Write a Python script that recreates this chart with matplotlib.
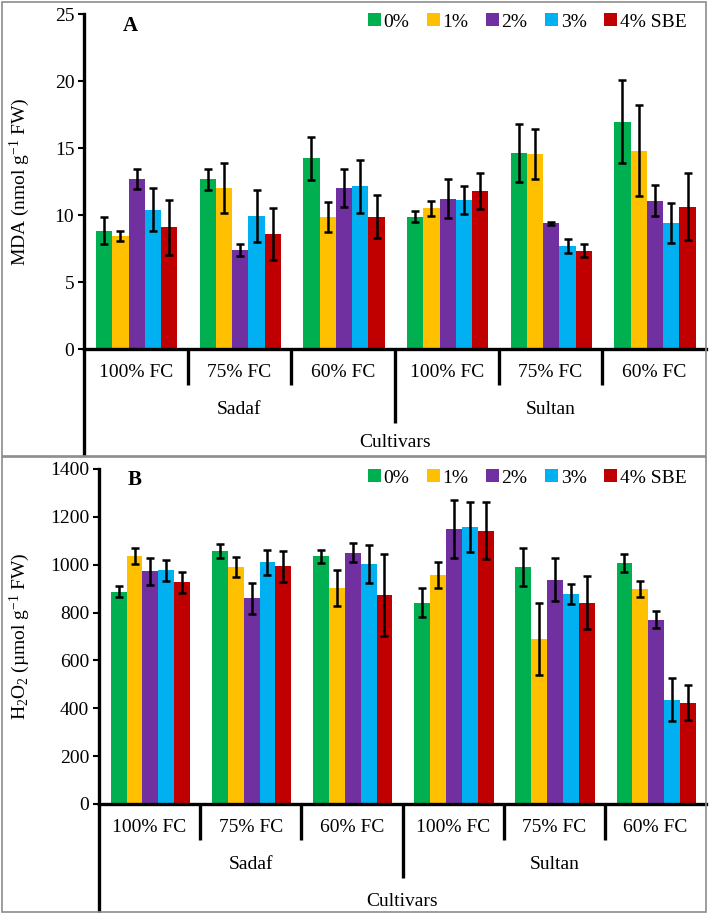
import matplotlib
import matplotlib.pyplot as plt
from matplotlib.patches import Rectangle
import numpy as np

matplotlib.use("Agg")

plt.rcParams['font.family'] = 'Liberation Serif'
plt.rcParams['mathtext.fontset'] = 'custom'
plt.rcParams['mathtext.rm'] = 'Liberation Serif'
plt.rcParams['mathtext.it'] = 'Liberation Serif:italic'
plt.rcParams['font.size'] = 14

# data
treatments = ['0%', '1%', '2%', '3%', '4% SBE']
colors = ['#00B050', '#FFC000', '#7030A0', '#00B0F0', '#C00000']
water_levels = ['100% FC', '75% FC', '60% FC', '100% FC', '75% FC', '60% FC']
cultivars = ['Sadaf', 'Sultan']

# MDA, one row per treatment, one column per group
mda = [
    [8.83, 12.67, 14.22, 9.88, 14.65, 16.97],
    [8.43, 12.0, 9.88, 10.5, 14.55, 14.8],
    [12.7, 7.39, 12.0, 11.23, 9.38, 11.08],
    [10.38, 9.93, 12.15, 11.15, 7.68, 9.4],
    [9.1, 8.58, 9.88, 11.8, 7.34, 10.63],
]
mda_err = [
    [1.0, 0.8, 1.63, 0.4, 2.15, 3.1],
    [0.35, 1.88, 1.12, 0.57, 1.88, 3.4],
    [0.75, 0.44, 1.4, 1.46, 0.1, 1.18],
    [1.6, 1.95, 1.97, 1.05, 0.55, 1.5],
    [2.05, 1.97, 1.62, 1.35, 0.49, 2.5],
]

# H2O2
h2o2 = [
    [888, 1056, 1035, 842, 990, 1008],
    [1036, 989, 902, 958, 689, 898],
    [973, 859, 1051, 1149, 938, 771],
    [976, 1011, 1003, 1157, 877, 436],
    [926, 993, 874, 1142, 842, 424],
]
h2o2_err = [
    [25, 30, 27, 61, 81, 37],
    [35, 42, 75, 55, 150, 34],
    [57, 66, 41, 120, 90, 35],
    [45, 52, 80, 105, 42, 90],
    [44, 65, 172, 120, 112, 73],
]

W, H = 709, 915
fig = plt.figure(figsize=(W / 100, H / 100), dpi=100)

# gray panel frames
for top, bot in [(2, 456), (457, 912)]:
    fig.patches.append(Rectangle((2 / W, 1 - bot / H), 704 / W, (bot - top) / H,
                                 transform=fig.transFigure, fill=False,
                                 edgecolor='#8c8c8c', linewidth=1.2))


def panel(rect, values, errors, ylim, yticks, ylabel, letter, letter_pos,
          leg_pos, ylabel_x, spine_bottom, cult_y):
    ax = fig.add_axes(rect)
    n = len(water_levels)
    bw = 0.157
    x = np.arange(n) + 0.508
    handles = []
    for i, name in enumerate(treatments):
        b = ax.bar(x + (i - 2) * bw, values[i], bw, color=colors[i],
                   yerr=errors[i], capsize=3.2,
                   error_kw=dict(elinewidth=1.8, capthick=1.8, ecolor='black'),
                   label=name, zorder=2)
        handles.append(b)
    ax.set_xlim(0, n)
    ax.set_ylim(*ylim)
    ax.set_yticks(yticks)
    ax.set_xticks([])
    for s in ['top', 'right']:
        ax.spines[s].set_visible(False)
    ax.spines['left'].set_linewidth(2.4)
    ax.spines['bottom'].set_linewidth(2.4)
    ax.tick_params(axis='y', length=4, width=1.5, labelsize=14, pad=3)
    ax.set_ylabel(ylabel, fontsize=14, va='center')
    ax.yaxis.set_label_coords(ylabel_x, 0.5)

    tr = ax.get_xaxis_transform()
    # left spine runs down to the panel frame
    ax.plot([0, 0], [0, spine_bottom], color='black', lw=2.4, transform=tr,
            clip_on=False, solid_capstyle='butt')
    for k in range(1, n):
        low = -0.22 if k == 3 else -0.1075
        ax.plot([k, k], [0, low], color='black', lw=2.4, transform=tr,
                clip_on=False, solid_capstyle='butt')
    for k, lab in enumerate(water_levels):
        ax.text(k + 0.5, -0.0716, lab, transform=tr, ha='center', va='center',
                fontsize=14)
    for c, lab in enumerate(cultivars):
        ax.text(c * 3 + 1.5, -0.18, lab, transform=tr, ha='center',
                va='center', fontsize=14)
    ax.text(3, cult_y, 'Cultivars', transform=tr, ha='center', va='center',
            fontsize=14)

    ax.text(letter_pos[0], letter_pos[1], letter, transform=ax.transAxes,
            ha='center', va='center', fontsize=15, fontweight='bold')
    ax.legend(handles=handles, loc='center right', bbox_to_anchor=leg_pos,
              ncol=5, frameon=False, borderpad=0, handlelength=0.65,
              handleheight=0.65, handletextpad=0.15, columnspacing=0.9,
              fontsize=14)
    return ax


panel([84 / W, 1 - 349 / H, 622 / W, 335 / H], mda, mda_err, (0, 25),
      np.arange(0, 26, 5), 'MDA (nmol g$^{\\mathregular{-1}}$ FW)', 'A',
      (0.074, 0.964), (0.984, 0.976), -0.103, -0.319, -0.28)

panel([99 / W, 1 - 804 / H, 607 / W, 335 / H], h2o2, h2o2_err, (0, 1400),
      np.arange(0, 1401, 200),
      'H$_{\\mathregular{2}}$O$_{\\mathregular{2}}$ (\u00b5mol g$^{\\mathregular{-1}}$ FW)',
      'B', (0.059, 0.967), (0.9835, 0.973), -0.130, -0.322, -0.2925)

fig.savefig('out.png', dpi=100)
